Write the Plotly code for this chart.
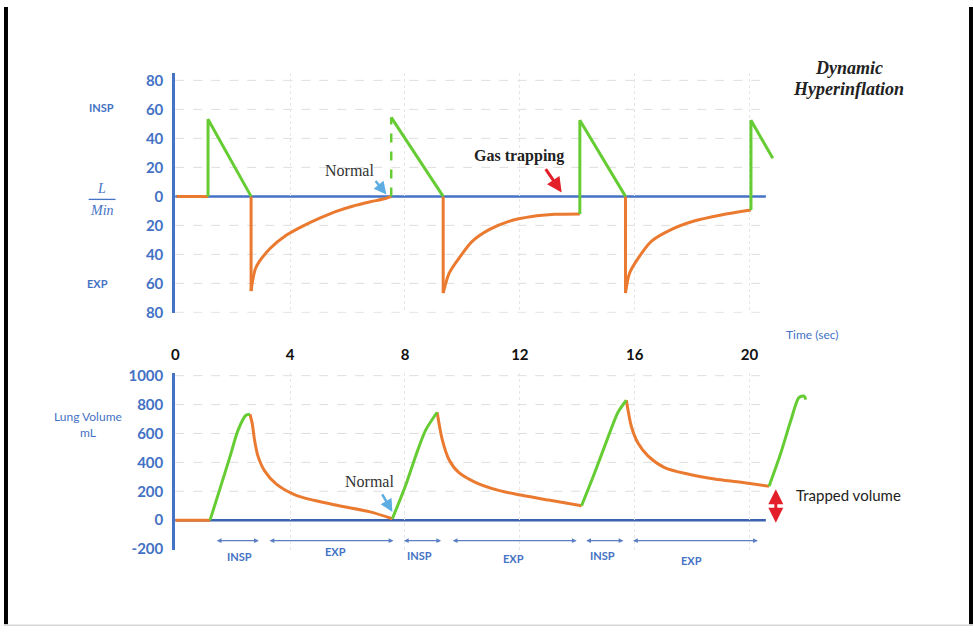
import plotly.graph_objects as go

W, H = 973, 641

# ---------------- data ----------------
x_ticks = [0, 4, 8, 12, 16, 20]

flow_ticks = [-80, -60, -40, -20, 0, 20, 40, 60, 80]
flow_tick_text = ["80", "60", "40", "20", "0", "20", "40", "60", "80"]
vol_ticks = [-200, 0, 200, 400, 600, 800, 1000]
vol_tick_text = ["-200", "0", "200", "400", "600", "800", "1000"]

# Top panel: flow (L/min), + = inspiration, - = expiration
flow_base_t = [0.05, 1.14]
flow_base_v = [0, 0]

flow_insp1_t = [1.14, 1.14, 2.64]
flow_insp1_v = [0, 53.2, 0]
flow_insp2_rise_t = [7.52, 7.52]
flow_insp2_rise_v = [0, 54.5]
flow_insp2_t = [7.52, 9.33]
flow_insp2_v = [54.5, 0]
flow_insp3_t = [14.09, 14.09, 15.68]
flow_insp3_v = [-12.1, 52.5, 0]
flow_insp4_t = [20.05, 20.05, 20.81]
flow_insp4_v = [-9.4, 52.5, 26.3]

flow_exp1_t = [2.64, 2.81, 3.30, 3.85, 4.44, 5.03, 5.58, 6.17, 6.76, 7.32, 7.52]
flow_exp1_v = [-65.3, -49, -36, -27, -20.5, -15, -10.5, -6.8, -3.9, -1.5, 0]
flow_exp2_t = [9.33, 9.54, 9.89, 10.34, 10.93, 11.62, 12.42, 13.22, 14.09]
flow_exp2_v = [-66.7, -53, -42.4, -31, -22.9, -17.2, -13.9, -12.4, -12.1]
flow_exp3_t = [15.68, 15.82, 16.13, 16.58, 17.27, 18.07, 19.01, 20.05]
flow_exp3_v = [-66.7, -53, -42.4, -31, -22.9, -17.0, -12.8, -9.4]

# Bottom panel: lung volume (mL)
vol_base_t = [0.0, 1.21]
vol_base_v = [0, 0]

vol_insp1_t = [1.21, 1.56, 1.91, 2.19, 2.46, 2.60]
vol_insp1_v = [0, 220, 443, 625, 726, 733]
vol_exp1_t = [2.60, 2.68, 2.76, 2.88, 3.11, 3.51, 4.21, 5.58, 6.75, 7.56]
vol_exp1_v = [733, 668, 555, 443, 341, 251, 172, 105, 59, 10]

vol_insp2_t = [7.56, 8.02, 8.37, 8.72, 9.12]
vol_insp2_v = [10, 240, 443, 623, 747]
vol_exp2_t = [9.12, 9.30, 9.53, 9.87, 10.45, 11.26, 12.07, 13.00, 14.15]
vol_exp2_v = [747, 555, 420, 330, 262, 206, 172, 139, 100]

vol_insp3_t = [14.15, 14.61, 15.08, 15.42, 15.71]
vol_insp3_v = [100, 330, 578, 747, 830]
vol_exp3_t = [15.71, 15.89, 16.12, 16.47, 17.04, 17.85, 18.78, 19.70, 20.68]
vol_exp3_v = [830, 645, 532, 443, 364, 319, 285, 262, 235]

vol_insp4_t = [20.68, 21.09, 21.44, 21.72, 21.90, 21.96]
vol_insp4_v = [235, 465, 691, 848, 859, 834]

# Phase markers under the volume trace
phase_labels = ["INSP", "EXP", "INSP", "EXP", "INSP", "EXP"]
phase_start = [1.39, 3.23, 7.91, 9.61, 14.26, 15.89]
phase_end = [2.91, 7.60, 9.26, 13.98, 15.61, 20.29]
phase_label_t = [2.25, 5.58, 8.50, 11.79, 14.88, 17.97]

# ---------------- style ----------------
GREEN = "#66CC33"
ORANGE = "#EB7A31"
BLUE = "#4472C4"
BLUE_DARK = "#3A62AE"
ARROW_BLUE = "#5DADE2"
RED = "#E3202A"


def px(x):
    return x / W


def py(y):
    return 1 - y / H


def line(t, v, color, xa, ya, shape="spline", dash="solid", width=3):
    return go.Scatter(
        x=t, y=v, mode="lines",
        line=dict(color=color, width=width, shape=shape, dash=dash, smoothing=0.8),
        xaxis=xa, yaxis=ya, hoverinfo="skip", showlegend=False,
    )


fig = go.Figure()

# top traces
fig.add_trace(line(flow_base_t, flow_base_v, ORANGE, "x", "y", shape="linear"))
for t, v in [(flow_exp1_t, flow_exp1_v), (flow_exp2_t, flow_exp2_v), (flow_exp3_t, flow_exp3_v)]:
    fig.add_trace(line([t[0], t[0]], [0, v[0]], ORANGE, "x", "y", shape="linear"))
    fig.add_trace(line(t, v, ORANGE, "x", "y"))
fig.add_trace(line(flow_insp2_rise_t, flow_insp2_rise_v, GREEN, "x", "y", shape="linear", dash="dash", width=2.5))
for t, v in [(flow_insp1_t, flow_insp1_v), (flow_insp2_t, flow_insp2_v),
             (flow_insp3_t, flow_insp3_v), (flow_insp4_t, flow_insp4_v)]:
    fig.add_trace(line(t, v, GREEN, "x", "y", shape="linear"))

# bottom traces
fig.add_trace(line(vol_base_t, vol_base_v, ORANGE, "x2", "y2", shape="linear"))
for t, v in [(vol_exp1_t, vol_exp1_v), (vol_exp2_t, vol_exp2_v), (vol_exp3_t, vol_exp3_v)]:
    fig.add_trace(line(t, v, ORANGE, "x2", "y2"))
for t, v in [(vol_insp1_t, vol_insp1_v), (vol_insp2_t, vol_insp2_v),
             (vol_insp3_t, vol_insp3_v), (vol_insp4_t, vol_insp4_v)]:
    fig.add_trace(line(t, v, GREEN, "x2", "y2"))

# ---------------- shapes ----------------
shapes = []
GRID_END = (765 - 172) / (808 - 172)
for v in flow_ticks:
    if v != 0:
        shapes.append(dict(type="line", xref="x domain", yref="y", x0=0, x1=GRID_END, y0=v, y1=v,
                           line=dict(color="#dedede", width=1, dash="dash"), layer="below"))
for v in vol_ticks:
    if v > 0:
        shapes.append(dict(type="line", xref="x2 domain", yref="y2", x0=0, x1=GRID_END, y0=v, y1=v,
                           line=dict(color="#dedede", width=1, dash="dash"), layer="below"))
shapes.append(dict(type="line", xref="x domain", yref="y", x0=0, x1=GRID_END, y0=0, y1=0,
                   line=dict(color=BLUE, width=2.5), layer="below"))
shapes.append(dict(type="line", xref="x2 domain", yref="y2", x0=0, x1=GRID_END, y0=0, y1=0,
                   line=dict(color=BLUE_DARK, width=2.5), layer="below"))
# fraction bar of L/Min
shapes.append(dict(type="line", xref="paper", yref="paper", x0=px(85), x1=px(112), y0=py(197), y1=py(197),
                   line=dict(color=BLUE, width=1.3)))
# page frame
shapes.append(dict(type="rect", xref="paper", yref="paper", x0=0, x1=px(4), y0=py(632), y1=1,
                   fillcolor="black", line=dict(width=0)))
shapes.append(dict(type="rect", xref="paper", yref="paper", x0=px(969), x1=1, y0=py(632), y1=1,
                   fillcolor="black", line=dict(width=0)))
shapes.append(dict(type="line", xref="paper", yref="paper", x0=0, x1=1, y0=py(633), y1=py(633),
                   line=dict(color="#d6d6d6", width=1.5)))

# ---------------- annotations ----------------
ann = []


def text(x, y, s, size, color, family="Lato", weight="normal", xanchor="center", style="normal"):
    ann.append(dict(x=px(x), y=py(y), xref="paper", yref="paper", text=s, showarrow=False,
                    xanchor=xanchor, yanchor="middle",
                    font=dict(size=size, color=color, family=family, weight=weight, style=style)))


def arrow(hx, hy, tx, ty, color, width, side="end"):
    ann.append(dict(x=px(hx), y=py(hy), xref="paper", yref="paper", text="", showarrow=True,
                    ax=tx - hx, ay=ty - hy, arrowhead=2, arrowsize=1, arrowwidth=width,
                    arrowcolor=color, arrowside=side))


text(98, 103, "INSP", 11, BLUE, weight="bold")
text(94, 283, "EXP", 11, BLUE, weight="bold")
text(98, 186, "L", 14, BLUE, family="Liberation Serif", style="italic")
text(98, 208, "Min", 14, BLUE, family="Liberation Serif", style="italic")
text(84, 427, "Lung Volume<br>mL", 12, BLUE)
text(811, 335, "Time (sec)", 12, BLUE)

text(347, 167, "Normal", 16, "#333333", family="Liberation Serif")
arrow(384, 192, 372, 177, ARROW_BLUE, 2.5)
text(367, 486, "Normal", 16, "#333333", family="Liberation Serif")
arrow(390, 517, 379, 498, ARROW_BLUE, 2.5)

text(517, 153, "Gas trapping", 16, "#222222", family="Liberation Serif", weight="bold")
arrow(560, 190, 543, 165, RED, 3)

text(848, 62, "Dynamic", 18, "#222222", family="Liberation Serif", weight="bold", style="italic")
text(848, 84, "Hyperinflation", 18, "#222222", family="Liberation Serif", weight="bold", style="italic")

text(793, 500, "Trapped volume", 15, "#222222", xanchor="left")
arrow(775, 528, 775, 493, RED, 3, side="end+start")

label_y = [563, 558, 562, 565, 562, 567]
for lab, t0, t1, tl, ly in zip(phase_labels, phase_start, phase_end, phase_label_t, label_y):
    ann.append(dict(x=t1, y=-142, xref="x2", yref="y2", ax=t0, ay=-142, axref="x2", ayref="y2",
                    text="", showarrow=True, arrowhead=2, arrowsize=0.8, arrowwidth=1.2,
                    arrowcolor="#5B7FC4", arrowside="end+start"))
    ann.append(dict(x=tl, y=py(ly), xref="x2", yref="paper", text=lab, showarrow=False,
                    yanchor="middle",
                    font=dict(size=11, color=BLUE, family="Lato", weight="bold")))

# ---------------- axes ----------------
XDOM = [172 / W, 808 / W]
XRANGE = [0, 22.06]
common_x = dict(domain=XDOM, range=XRANGE, tickvals=x_ticks, showgrid=True, gridcolor="#e6e6e6",
                griddash="dot", gridwidth=1, zeroline=False, showline=False)

fig.update_layout(
    width=W, height=H, margin=dict(l=0, r=0, t=0, b=0),
    paper_bgcolor="white", plot_bgcolor="white", showlegend=False,
    xaxis=dict(**common_x, anchor="y", ticks="outside", ticklen=28, tickcolor="rgba(0,0,0,0)",
               tickfont=dict(family="Lato", size=15, color="#111111", weight="bold")),
    xaxis2=dict(**common_x, anchor="y2", showticklabels=False),
    yaxis=dict(domain=[1 - 313 / H, 1 - 68 / H], range=[-80.2, 84.8], anchor="x",
               tickvals=flow_ticks, ticktext=flow_tick_text, showgrid=False, zeroline=False,
               showline=True, linecolor=BLUE, linewidth=3, ticks="outside", ticklen=6,
               tickcolor="rgba(0,0,0,0)",
               tickfont=dict(family="Lato", size=15, color=BLUE, weight="bold")),
    yaxis2=dict(domain=[1 - 556 / H, 1 - 375 / H], range=[-206.5, 1017], anchor="x2",
                tickvals=vol_ticks, ticktext=vol_tick_text, showgrid=False, zeroline=False,
                showline=True, linecolor=BLUE, linewidth=3, ticks="outside", ticklen=6,
                tickcolor="rgba(0,0,0,0)",
                tickfont=dict(family="Lato", size=15, color=BLUE, weight="bold")),
    shapes=shapes, annotations=ann,
)

fig.write_html(
    "out.html",
    config={"displayModeBar": False},
    post_script="document.body.style.margin='0px';document.documentElement.style.overflow='hidden';",
)
